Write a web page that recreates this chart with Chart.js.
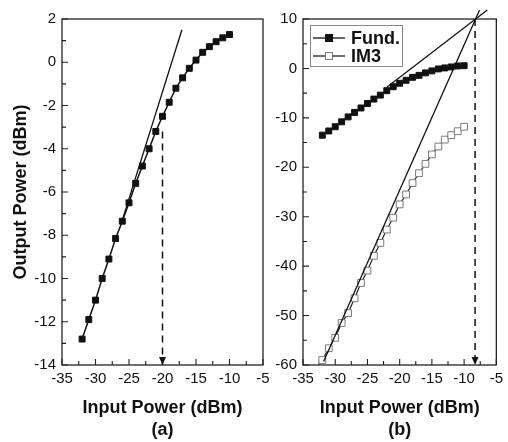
<!DOCTYPE html>
<html>
<head>
<meta charset="utf-8">
<script src="https://cdn.jsdelivr.net/npm/chart.js@4.4.1/dist/chart.umd.min.js"></script>
<style>
  html, body { margin: 0; padding: 0; background: #fff; }
  #wrap { position: relative; width: 508px; height: 442px; overflow: hidden; }
  canvas { position: absolute; top: 0; }
  #chartA { left: 0; }
  #chartB { left: 260px; }
</style>
</head>
<body>
<div id="wrap">
  <canvas id="chartA" width="280" height="442"></canvas>
  <canvas id="chartB" width="248" height="442"></canvas>
</div>
<script>
// input power sweep (dBm), same for both panels
const inputPower = [-32, -31, -30, -29, -28, -27, -26, -25, -24, -23, -22, -21,
                    -20, -19, -18, -17, -16, -15, -14, -13, -12, -11, -10];

// panel (a): measured output power
const outputA = [-12.8, -11.9, -11.0, -10.0, -9.1, -8.15, -7.35, -6.5, -5.6, -4.8, -4.0, -3.2,
                 -2.5, -1.85, -1.2, -0.72, -0.28, 0.1, 0.46, 0.72, 0.95, 1.13, 1.28];
// linear gain extrapolation
const fitAX = [-26, -17.1];
const fitAY = [-7.3, 1.5];
// P1dB marker (dashed, arrow down)
const markAX = [-20, -20];
const markAY = [-3.2, -14];

// panel (b): fundamental and IM3
const fundB = [-13.5, -12.65, -11.8, -10.8, -9.8, -8.9, -8.0, -7.1, -6.2, -5.4, -4.5, -3.7,
               -3.0, -2.4, -1.8, -1.4, -0.9, -0.5, -0.1, 0.1, 0.3, 0.5, 0.55];
const im3B = [-59, -56.6, -54.5, -51.5, -49.5, -46.5, -43.4, -40.9, -37.9, -35.3, -32.6, -30.2,
              -27.5, -25.5, -23.2, -21.2, -19.3, -17.4, -15.8, -14.4, -13.5, -12.7, -11.8];
const fitFundX = [-22, -6.4];
const fitFundY = [-3.8, 11.8];
const fitIm3X = [-31.8, -7.6];
const fitIm3Y = [-59.3, 11.8];
// IIP3 marker
const markBX = [-8.3, -8.3];
const markBY = [10, -60];

// axes
const xRange = [-35, -5];
const yRangeA = [-14, 2];
const yRangeB = [-60, 10];
const xTitle = 'Input Power (dBm)';
const yTitle = 'Output Power (dBm)';
const seriesNames = ['Fund.', 'IM3'];

Chart.defaults.font.family = '"Liberation Sans", Arial, sans-serif';
Chart.defaults.color = '#111';

const pts = (xs, ys) => xs.map((x, i) => ({ x: x, y: ys[i] }));

function isMajor(v, step) {
    return Math.abs(v / step - Math.round(v / step)) < 1e-6;
}

// box frame + inward ticks on bottom and left
const axisFrame = {
    id: 'axisFrame',
    beforeDatasetsDraw(chart, args, opts) {
        const { ctx, chartArea: a, scales: { x, y } } = chart;
        ctx.save();
        ctx.strokeStyle = '#222';
        ctx.lineWidth = 1.3;
        ctx.strokeRect(a.left, a.top, a.right - a.left, a.bottom - a.top);
        ctx.lineWidth = 1.1;
        ctx.beginPath();
        for (let v = x.min; v <= x.max + 1e-9; v += opts.xMinor) {
            const px = x.getPixelForValue(v);
            const len = isMajor(v, opts.xMajor) ? 6 : 4;
            ctx.moveTo(px, a.bottom);
            ctx.lineTo(px, a.bottom - len);
        }
        for (let v = y.min; v <= y.max + 1e-9; v += opts.yMinor) {
            const py = y.getPixelForValue(v);
            const len = isMajor(v, opts.yMajor) ? 6 : 4;
            ctx.moveTo(a.left, py);
            ctx.lineTo(a.left + len, py);
        }
        ctx.stroke();
        ctx.restore();
    }
};

// arrow head at the end of dashed marker lines
const arrowHead = {
    id: 'arrowHead',
    afterDatasetsDraw(chart) {
        const ctx = chart.ctx;
        chart.data.datasets.forEach((ds, i) => {
            if (!ds.arrowEnd) return;
            const els = chart.getDatasetMeta(i).data;
            const p = els[els.length - 1];
            ctx.save();
            ctx.fillStyle = ds.borderColor;
            ctx.beginPath();
            ctx.moveTo(p.x, p.y);
            ctx.lineTo(p.x - 3.5, p.y - 8);
            ctx.lineTo(p.x + 3.5, p.y - 8);
            ctx.closePath();
            ctx.fill();
            ctx.restore();
        });
    }
};

// rotated y title, squeezed like the original
const sideTitle = {
    id: 'sideTitle',
    afterDraw(chart, args, opts) {
        if (!opts.text) return;
        const { ctx, chartArea: a } = chart;
        ctx.save();
        ctx.translate(a.left - 41, (a.top + a.bottom) / 2);
        ctx.rotate(-Math.PI / 2);
        ctx.font = 'bold 18px "Liberation Sans", Arial, sans-serif';
        ctx.fillStyle = '#111';
        ctx.textAlign = 'center';
        ctx.textBaseline = 'middle';
        ctx.fillText(opts.text, 0, 0, opts.width);
        ctx.restore();
    }
};

// boxed legend in the upper-left corner of panel (b)
const boxLegend = {
    id: 'boxLegend',
    afterDraw(chart, args, opts) {
        if (!opts.items) return;
        const { ctx, chartArea: a } = chart;
        const bx = a.left + 7, by = a.top + 6;
        ctx.save();
        ctx.fillStyle = '#fff';
        ctx.fillRect(bx, by, 92, 41);
        ctx.strokeStyle = '#888';
        ctx.lineWidth = 1;
        ctx.strokeRect(bx + 0.5, by + 0.5, 92, 41);
        opts.items.forEach((name, i) => {
            const ds = chart.data.datasets.find(d => d.label === name);
            const ly = by + 13 + i * 18;
            ctx.strokeStyle = ds.borderColor;
            ctx.lineWidth = 1.3;
            ctx.beginPath();
            ctx.moveTo(bx + 3, ly);
            ctx.lineTo(bx + 35, ly);
            ctx.stroke();
            ctx.fillStyle = ds.pointBackgroundColor;
            ctx.strokeStyle = ds.pointBorderColor;
            ctx.lineWidth = 1;
            ctx.fillRect(bx + 15.5, ly - 3.5, 7, 7);
            ctx.strokeRect(bx + 15.5, ly - 3.5, 7, 7);
            ctx.fillStyle = '#111';
            ctx.font = 'bold 18px "Liberation Sans", Arial, sans-serif';
            ctx.textBaseline = 'middle';
            ctx.fillText(name, bx + 41, ly + 1);
        });
        ctx.restore();
    }
};

function buildScales(yRange, yStep, yWidth, panel) {
    return {
        x: {
            type: 'linear',
            min: xRange[0],
            max: xRange[1],
            border: { display: false },
            grid: { display: false, drawTicks: false },
            ticks: { stepSize: 5, padding: 5, autoSkip: false, maxRotation: 0, font: { size: 15 } },
            title: {
                display: true,
                text: [xTitle, panel],
                font: { size: 18, weight: 'bold', lineHeight: 1.222 },
                padding: { top: 0, bottom: 1 }
            },
            afterFit: s => { s.height = 77; }
        },
        y: {
            type: 'linear',
            min: yRange[0],
            max: yRange[1],
            border: { display: false },
            grid: { display: false, drawTicks: false },
            ticks: { stepSize: yStep, padding: 6, autoSkip: false, font: { size: 15 } },
            afterFit: s => { s.width = yWidth; }
        }
    };
}

function lineSet(label, data, extra) {
    return Object.assign({
        label: label,
        data: data,
        showLine: true,
        borderColor: '#111',
        borderWidth: 1.5,
        pointRadius: 0,
        tension: 0,
        order: 1
    }, extra);
}

// ---- panel (a)
new Chart(document.getElementById('chartA'), {
    type: 'scatter',
    data: {
        datasets: [
            lineSet('fit', pts(fitAX, fitAY), { borderWidth: 1.3, order: 0, clip: false }),
            lineSet('Output', pts(inputPower, outputA), {
                pointStyle: 'rect', pointRadius: 4.2,
                pointBackgroundColor: '#111', pointBorderColor: '#111', pointBorderWidth: 1
            }),
            lineSet('P1dB', pts(markAX, markAY), { borderDash: [7, 5], borderWidth: 1.5, arrowEnd: true, order: 0 })
        ]
    },
    options: {
        responsive: false,
        devicePixelRatio: 1,
        animation: false,
        layout: { padding: { top: 19, right: 17, left: 0, bottom: 0 }, autoPadding: false },
        scales: buildScales(yRangeA, 2, 62, '(a)'),
        plugins: {
            legend: { display: false },
            tooltip: { enabled: false },
            axisFrame: { xMinor: 2.5, xMajor: 5, yMinor: 1, yMajor: 2 },
            sideTitle: { text: yTitle, width: 182 }
        }
    },
    plugins: [axisFrame, arrowHead, sideTitle]
});

// ---- panel (b)
new Chart(document.getElementById('chartB'), {
    type: 'scatter',
    data: {
        datasets: [
            lineSet('fitFund', pts(fitFundX, fitFundY), { borderWidth: 1.3, order: 0, clip: false }),
            lineSet('fitIM3', pts(fitIm3X, fitIm3Y), { borderWidth: 1.3, order: 0, clip: false }),
            lineSet(seriesNames[0], pts(inputPower, fundB), {
                pointStyle: 'rect', pointRadius: 4.2,
                pointBackgroundColor: '#111', pointBorderColor: '#111', pointBorderWidth: 1
            }),
            lineSet(seriesNames[1], pts(inputPower, im3B), {
                borderColor: '#222', borderWidth: 1.2,
                pointStyle: 'rect', pointRadius: 4.8,
                pointBackgroundColor: '#fff', pointBorderColor: '#7a7a7a', pointBorderWidth: 1
            }),
            lineSet('IIP3', pts(markBX, markBY), { borderDash: [7, 5], borderWidth: 1.5, arrowEnd: true, order: 0 })
        ]
    },
    options: {
        responsive: false,
        devicePixelRatio: 1,
        animation: false,
        layout: { padding: { top: 19, right: 4, left: 0, bottom: 0 }, autoPadding: false },
        scales: buildScales(yRangeB, 10, 43, '(b)'),
        plugins: {
            legend: { display: false },
            tooltip: { enabled: false },
            axisFrame: { xMinor: 2.5, xMajor: 5, yMinor: 5, yMajor: 10 },
            boxLegend: { items: seriesNames }
        }
    },
    plugins: [axisFrame, arrowHead, boxLegend]
});
</script>
</body>
</html>
